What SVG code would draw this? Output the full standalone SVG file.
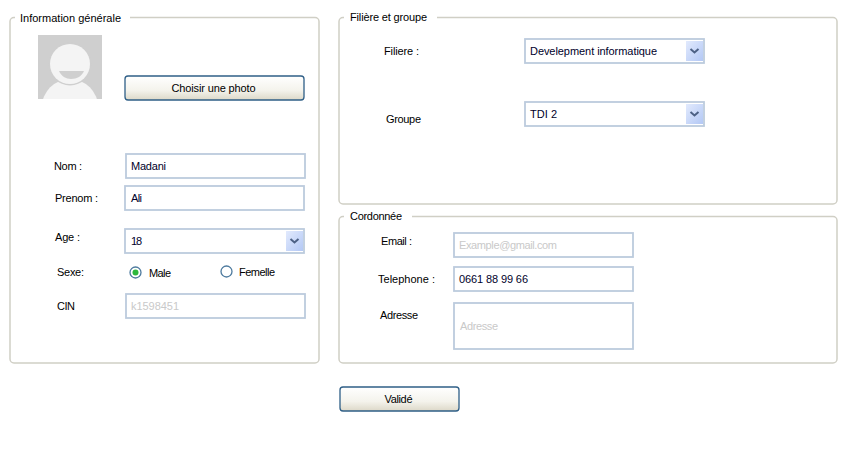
<svg xmlns="http://www.w3.org/2000/svg" width="847" height="456" viewBox="0 0 847 456">
<defs>
<linearGradient id="btn" x1="0" y1="0" x2="0" y2="1"><stop offset="0" stop-color="#ffffff"/><stop offset="0.6" stop-color="#f4f3ec"/><stop offset="1" stop-color="#dcd8c8"/></linearGradient>
<linearGradient id="drop" x1="0" y1="0" x2="1" y2="1"><stop offset="0" stop-color="#e2eafd"/><stop offset="1" stop-color="#b3c8f5"/></linearGradient>
<clipPath id="photoClip"><rect x="38" y="35" width="64" height="64"/></clipPath>
<g id="chev"><path d="M-4 -2 L0 1.500 L4 -2" fill="none" stroke="#4d6185" stroke-width="2"/></g>
</defs>
<style>
text{font-family:"Liberation Sans",Arial,sans-serif;font-size:11px;fill:#000}
.ph{fill:#c9c9c9}
.val{fill:#00002a}
.panel{fill:#fff;stroke:#d0cfc5;stroke-width:1.500}
.gap{fill:#fff}
.field{fill:#fff;stroke:#bccbdd;stroke-width:1.800}
.btn{fill:url(#btn);stroke:#2f5f87;stroke-width:1.300}
.mid{text-anchor:middle}
</style>
<rect width="847" height="456" fill="#fff"/>

<g id="panel-info">
<rect class="panel" x="10" y="17.500" width="309" height="345.500" rx="4"/>
<rect class="gap" x="15" y="14" width="115" height="7"/>
<text x="20" y="22" textLength="101">Information générale</text>
</g>
<g id="panel-filiere">
<rect class="panel" x="339" y="17.500" width="498" height="186.500" rx="4"/>
<rect class="gap" x="344" y="14" width="93" height="7"/>
<text x="350" y="21" textLength="77">Filière et groupe</text>
</g>
<g id="panel-coord">
<rect class="panel" x="339" y="216.500" width="498" height="146.500" rx="4"/>
<rect class="gap" x="344" y="213" width="68" height="7"/>
<text x="350" y="220" textLength="52">Cordonnée</text>
</g>

<g id="photo">
<rect x="38" y="35" width="64" height="64" fill="#cfcfcf"/>
<g clip-path="url(#photoClip)">
<circle cx="70" cy="107" r="28" fill="#f4f4f4"/>
<circle cx="70" cy="64" r="21.500" fill="#cfcfcf"/>
<circle cx="70" cy="64" r="20" fill="#f4f4f4"/>
<path d="M59 71 H84 C82 76 77 79 71 79 C66 79 61 76 59 71 Z" fill="#cfcfcf"/>
</g>
</g>
<g id="btn-photo">
<rect class="btn" x="125" y="76" width="179" height="24" rx="3"/>
<text class="mid" x="213.500" y="92" textLength="84">Choisir une photo</text>
</g>

<g id="nom">
<text x="54" y="170" textLength="28">Nom :</text>
<rect class="field" x="126" y="154" width="179" height="24"/>
<text class="val" x="131" y="170" textLength="35">Madani</text>
</g>
<g id="prenom">
<text x="55" y="202" textLength="43">Prenom :</text>
<rect class="field" x="125" y="186" width="179" height="24"/>
<text class="val" x="131" y="202" textLength="11">Ali</text>
</g>
<g id="age">
<text x="55" y="241" textLength="25">Age :</text>
<rect class="field" x="125" y="229" width="179" height="24"/>
<rect x="286" y="231" width="17" height="20" fill="url(#drop)"/>
<use href="#chev" x="294.500" y="241"/>
<text class="val" x="131" y="245" textLength="11">18</text>
</g>
<g id="sexe">
<text x="57" y="276" textLength="27">Sexe:</text>
<circle cx="135.500" cy="272.500" r="5.500" fill="#fff" stroke="#4d7a9e" stroke-width="1.300"/>
<circle cx="135.500" cy="272.500" r="3" fill="#2eb83c"/>
<text x="149" y="277" textLength="22">Male</text>
<circle cx="226.500" cy="271.500" r="5.500" fill="#fff" stroke="#4d7a9e" stroke-width="1.300"/>
<text x="239" y="276" textLength="36">Femelle</text>
</g>
<g id="cin">
<text x="57" y="310" textLength="18">CIN</text>
<rect class="field" x="126" y="294" width="179" height="24"/>
<text class="ph" x="131" y="310" textLength="48">k1598451</text>
</g>

<g id="filiere">
<text x="384" y="55" textLength="35">Filiere :</text>
<rect class="field" x="525" y="39" width="179" height="24"/>
<rect x="686" y="41" width="17" height="20" fill="url(#drop)"/>
<use href="#chev" x="694.500" y="51"/>
<text class="val" x="530" y="55" textLength="127">Develepment informatique</text>
</g>
<g id="groupe">
<text x="386" y="123" textLength="35">Groupe</text>
<rect class="field" x="525" y="102" width="179" height="24"/>
<rect x="686" y="104" width="17" height="20" fill="url(#drop)"/>
<use href="#chev" x="694.500" y="114"/>
<text class="val" x="530" y="118" textLength="27">TDI 2</text>
</g>

<g id="email">
<text x="381" y="245" textLength="31">Email :</text>
<rect class="field" x="454" y="233" width="179" height="24"/>
<text class="ph" x="459" y="249" textLength="98">Example@gmail.com</text>
</g>
<g id="telephone">
<text x="378" y="283" textLength="57">Telephone :</text>
<rect class="field" x="454" y="267" width="179" height="24"/>
<text class="val" x="459" y="283" textLength="69">0661 88 99 66</text>
</g>
<g id="adresse">
<text x="380" y="319" textLength="38">Adresse</text>
<rect class="field" x="454" y="303" width="179" height="46"/>
<text class="ph" x="460" y="330" textLength="38">Adresse</text>
</g>

<g id="btn-valide">
<rect class="btn" x="340" y="387" width="119" height="24" rx="3"/>
<text class="mid" x="398.500" y="403" textLength="28">Validé</text>
</g>
</svg>
